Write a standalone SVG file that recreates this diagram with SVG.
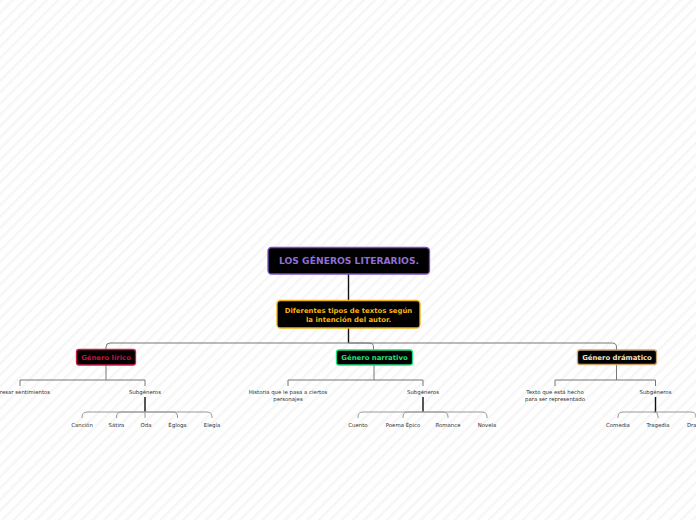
<svg xmlns="http://www.w3.org/2000/svg" width="696" height="520" viewBox="0 0 696 520">
<defs>
<pattern id="bg" width="8" height="8" patternUnits="userSpaceOnUse" patternTransform="rotate(45)">
<rect x="0" y="0" width="2.5" height="8" fill="#f6f6f6"/>
</pattern>
<style>
.node rect{fill:#000;stroke-width:1.3}
.nt{font-family:"DejaVu Sans",Verdana,sans-serif;font-weight:bold;text-anchor:middle}
.ct{font-family:"DejaVu Sans",Verdana,sans-serif;font-size:5.4px;fill:#333;text-anchor:middle}
.c1{fill:none;stroke:#777;stroke-width:1}
.c2{fill:none;stroke:#777;stroke-width:1}
.c3{fill:none;stroke:#999;stroke-width:1}
.stem{fill:none;stroke:#111;stroke-width:1.4}
</style>
</defs>
<rect width="696" height="520" fill="#fff"/>
<rect width="696" height="520" fill="url(#bg)"/>

<g id="connectors">
<path class="stem" d="M348.5,274V300"/>
<path class="stem" d="M348.5,328V343"/>
<path class="c1" d="M348.5,343H110Q106,343 106,347V349"/>
<path class="c1" d="M348.5,343H369Q373.5,343 373.5,347V350"/>
<path class="c1" d="M348.5,343H612Q616.5,343 616.5,347V350"/>
<path class="c2" d="M106,365V380H20V386"/>
<path class="c2" d="M106,380H145V386"/>
<path class="stem" d="M145,397V412"/>
<path class="c3" d="M145,412H87Q82,412 82,417V418"/>
<path class="c3" d="M145,412H121Q116.5,412 116.5,417V418"/>
<path class="c3" d="M145,412V418"/>
<path class="c3" d="M145,412H173Q177.5,412 177.5,417V418"/>
<path class="c3" d="M145,412H207Q212,412 212,417V418"/>
<path class="c2" d="M374,365V380H288V386"/>
<path class="c2" d="M374,380H423V386"/>
<path class="stem" d="M423,397V412"/>
<path class="c3" d="M423,412H363Q358,412 358,417V418"/>
<path class="c3" d="M423,412H408Q403,412 403,417V418"/>
<path class="c3" d="M423,412H443Q448,412 448,417V418"/>
<path class="c3" d="M423,412H482Q487,412 487,417V418"/>
<path class="c2" d="M616.5,364V380H555V386"/>
<path class="c2" d="M616.5,380H655.5V386"/>
<path class="stem" d="M655.5,397V412"/>
<path class="c3" d="M655.5,412H623Q618,412 618,417V418"/>
<path class="c3" d="M655.5,412H654Q658,412 658,416V418"/>
<path class="c3" d="M655.5,412H691Q696,412 696,417V418"/>
</g>

<g id="root" class="node">
<rect x="268" y="247.5" width="161.5" height="26.5" rx="3.5" stroke="#7c4fc9"/>
<text class="nt" x="349" y="264.2" font-size="9.2px" fill="#8f6fd6">LOS GÉNEROS LITERARIOS.</text>
</g>
<g id="intencion" class="node">
<rect x="277" y="300.5" width="143" height="27.5" rx="3.5" stroke="#f2b30e"/>
<text class="nt" x="348.5" y="312.5" font-size="6.9px" fill="#f5b50f">Diferentes tipos de textos según</text>
<text class="nt" x="348.5" y="321.5" font-size="6.9px" fill="#f5b50f">la intención del autor.</text>
</g>
<g id="lirico" class="node">
<rect x="76.5" y="349.5" width="59" height="15.5" rx="2.5" stroke="#d01a45"/>
<text class="nt" x="106" y="359.6" font-size="6.9px" fill="#c8143f">Género lírico</text>
</g>
<g id="narrativo" class="node">
<rect x="336.5" y="350" width="76" height="15" rx="2.5" stroke="#1de07c"/>
<text class="nt" x="374.5" y="359.9" font-size="6.9px" fill="#22e07e">Género narrativo</text>
</g>
<g id="dramatico" class="node">
<rect x="577.5" y="350" width="79" height="14.5" rx="2.5" stroke="#c9a46e"/>
<text class="nt" x="617" y="359.9" font-size="6.9px" fill="#f6e3c3">Género drámatico</text>
</g>

<g id="t-expresar"><text class="ct" x="20" y="394">Expresar sentimientos</text></g>
<g id="t-sub1"><text class="ct" x="145" y="394">Subgéneros</text></g>
<g id="t-cancion"><text class="ct" x="82" y="427">Canción</text></g>
<g id="t-satira"><text class="ct" x="116.5" y="427">Sátira</text></g>
<g id="t-oda"><text class="ct" x="146" y="427">Oda</text></g>
<g id="t-egloga"><text class="ct" x="177.5" y="427">Égloga</text></g>
<g id="t-elegia"><text class="ct" x="212" y="427">Elegía</text></g>

<g id="t-historia"><text class="ct" x="288" y="394">Historia que le pasa a ciertos</text><text class="ct" x="288" y="401">personajes</text></g>
<g id="t-sub2"><text class="ct" x="423" y="394">Subgéneros</text></g>
<g id="t-cuento"><text class="ct" x="358" y="427">Cuento</text></g>
<g id="t-poema"><text class="ct" x="403" y="427">Poema Épico</text></g>
<g id="t-romance"><text class="ct" x="448" y="427">Romance</text></g>
<g id="t-novela"><text class="ct" x="487" y="427">Novela</text></g>

<g id="t-texto"><text class="ct" x="555" y="394">Texto que está hecho</text><text class="ct" x="555" y="401">para ser representado</text></g>
<g id="t-sub3"><text class="ct" x="655.5" y="394">Subgéneros</text></g>
<g id="t-comedia"><text class="ct" x="618" y="427">Comedia</text></g>
<g id="t-tragedia"><text class="ct" x="658" y="427">Tragedia</text></g>
<g id="t-drama"><text class="ct" x="696" y="427">Drama</text></g>
</svg>
